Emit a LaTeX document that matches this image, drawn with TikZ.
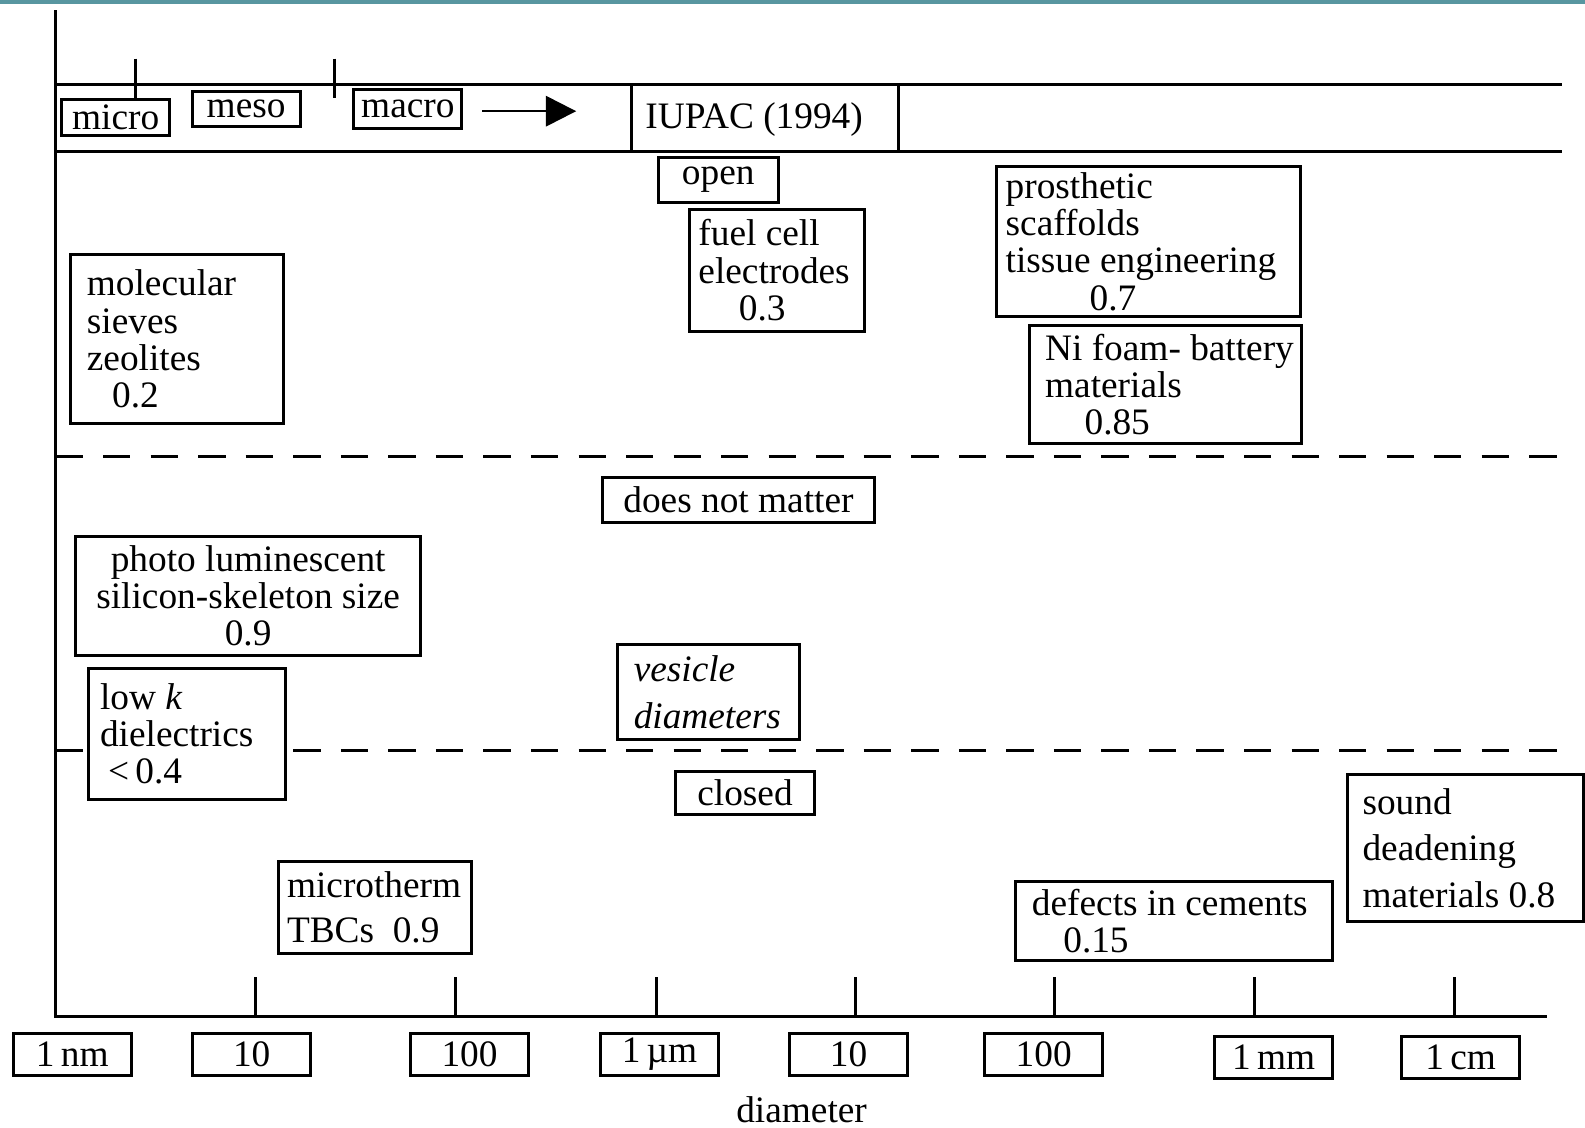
\documentclass[tikz,border=0pt]{standalone}
\usepackage{fontspec}
\setmainfont{Liberation Serif}
\usetikzlibrary{arrows.meta}
\usetikzlibrary{positioning}
\definecolor{bandteal}{RGB}{88,150,160}

\begin{document}
\begin{tikzpicture}[x=0.01cm, y=-0.01cm,
		tag/.style={draw, line width=0.85pt, fill=white, inner ysep=0pt, align=flush left,
			font=\fontsize{10.5}{10.5}\selectfont},
		onebox/.style={tag, inner xsep=0pt, align=flush center},
		scalebox/.style={onebox, minimum width=1.17cm, minimum height=0.42cm},
		rule/.style={line width=0.85pt},
		dashrule/.style={line width=0.85pt, dash pattern=on 0.27cm off 0.2cm}]
	\useasboundingbox (0,0) rectangle (1568,1115);
	% strip of the slide background
	\fill[bandteal] (0,0) rectangle (1568,4);

	% draw axes
	\coordinate (top) at (55,10);
	\coordinate (origin) at (55,1006);
	\coordinate (xend) at (1530,1006);
	\draw[rule] (top) -- (origin) -- (xend);
	\foreach \x in {253,451,649,846,1043,1241,1439}
		\draw[rule] (\x,967) -- (\x,1006);

	% IUPAC strip
	\draw[rule] (55,84) -- (1545,84);
	\draw[rule] (55,150) -- (1545,150);
	\draw[rule] (625,84) -- (625,150);
	\draw[rule] (889,84) -- (889,150);
	\draw[rule] (134,58) -- (134,98);
	\draw[rule] (331,58) -- (331,97);
	\node[onebox, minimum width=1.07cm, minimum height=0.36cm] (micro) at (114.5,116) {micro};
	\node[onebox, minimum width=1.07cm, minimum height=0.34cm] (meso) at (243.5,108) {meso};
	\node[onebox, minimum width=1.07cm, minimum height=0.38cm] (macro) at (403.5,108) {macro};
	\coordinate (arrowend) at (570,110);
	\draw[line width=0.7pt, -{Triangle[length=0.3cm,width=0.3cm]}] (477,110) -- (arrowend);
	\node[font=\fontsize{10.5}{10.5}\selectfont] (iupac) at (746,118) {IUPAC (1994)};

	% open / does not matter / closed bands
	\draw[dashrule] (55,452) -- (1545,452);
	\draw[dashrule] (55,742) -- (1545,742);

	\node[onebox, minimum width=1.19cm, minimum height=0.44cm] (open) at (710.5,178) {open};
	\node[tag, minimum width=2.10cm, minimum height=1.67cm, inner xsep=0.16cm, text width=1.78cm]
		(sieves) at (175,335.5) {molecular\\sieves\\zeolites\\\hspace*{0.25cm}0.2};
	\node[tag, minimum width=1.73cm, minimum height=1.21cm, inner xsep=0.09cm, text width=1.55cm]
		(fuelcell) at (768.5,267.5) {fuel cell\\electrodes\\\hspace*{0.4cm}0.3};
	\node[tag, minimum width=3.00cm, minimum height=1.48cm, inner xsep=0.09cm, text width=2.82cm]
		(prosth) at (1136,239) {prosthetic\\scaffolds\\tissue engineering\\\hspace*{0.83cm}0.7};
	\node[tag, minimum width=2.68cm, minimum height=1.17cm, inner xsep=0.15cm, text width=2.38cm]
		(nifoam) at (1153,380.5) {\mbox{Ni foam- battery}\\materials\\\hspace*{0.39cm}0.85};

	\node[onebox, minimum width=2.69cm, minimum height=0.45cm] (nomatter) at (730.5,494.5) {does not matter};
	\node[tag, align=flush center, minimum width=3.41cm, minimum height=1.17cm, inner xsep=0.1cm, text width=3.21cm]
		(photolum) at (245.5,589.5) {photo luminescent\\silicon-skeleton size\\0.9};
	\node[tag, minimum width=1.94cm, minimum height=1.30cm, inner xsep=0.11cm, text width=1.72cm]
		(lowk) at (185,726) {low \textit{k}\\dielectrics\\\hspace*{0.08cm}<\,0.4};
	\node[tag, minimum width=1.80cm, minimum height=0.94cm, inner xsep=0.16cm, text width=1.48cm,
		font=\fontsize{10.5}{13.1}\selectfont\itshape]
		(vesicle) at (701,685) {vesicle\\diameters};

	\node[onebox, minimum width=1.38cm, minimum height=0.43cm] (closed) at (737,784.5) {closed};
	\node[tag, minimum width=1.90cm, minimum height=0.91cm, inner xsep=0.08cm, text width=1.74cm,
		font=\fontsize{10.5}{12.8}\selectfont]
		(microtherm) at (371,897.5) {microtherm\\TBCs\ \ 0.9};
	\node[tag, minimum width=3.13cm, minimum height=0.78cm, inner xsep=0.16cm, text width=2.81cm]
		(defects) at (1161.5,911) {defects in cements\\\hspace*{0.31cm}0.15};
	\node[tag, minimum width=2.33cm, minimum height=1.46cm, inner xsep=0.15cm, text width=2.03cm,
		font=\fontsize{10.5}{13.1}\selectfont]
		(sound) at (1449.5,839) {sound\\deadening\\materials 0.8};

	% scale labels
	\node[scalebox] (l1) at (71.5,1043) {1\,nm};
	\node[scalebox] (l2) at (249,1043) {10};
	\node[scalebox] (l3) at (464.5,1043) {100};
	\node[scalebox] (l4) at (652.5,1043) {1\,µm};
	\node[scalebox] (l5) at (839.5,1043) {10};
	\node[scalebox] (l6) at (1032.5,1043) {100};
	\node[scalebox] (l7) at (1260,1046) {1\,mm};
	\node[scalebox] (l8) at (1445,1046) {1\,cm};
	\node[font=\fontsize{10.5}{10.5}\selectfont] (diam) at (793,1098) {diameter};
\end{tikzpicture}
\end{document}
